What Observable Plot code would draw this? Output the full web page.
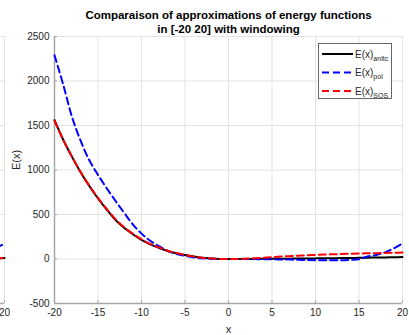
<!DOCTYPE html>
<html>
<head>
<meta charset="utf-8">
<script src="https://cdn.jsdelivr.net/npm/d3@7"></script>
<script src="https://cdn.jsdelivr.net/npm/@observablehq/plot@0.6"></script>
<style>
  html, body { margin: 0; padding: 0; background: #fff; }
  #wrap { position: relative; width: 409px; height: 335px; overflow: hidden; background: #fff; }
  #wrap svg { position: absolute; top: 0; }
</style>
</head>
<body>
<div id="wrap"></div>
<script>
// ---- data ----
const titleLines = ["Comparaison of approximations of energy functions", "in [-20 20] with windowing"];
const xLabel = "x";
const yLabel = "E(x)";
const xTicks = [-20, -15, -10, -5, 0, 5, 10, 15, 20];
const yTicks = [-500, 0, 500, 1000, 1500, 2000, 2500];
const seriesNames = ["anltc", "pol", "SOS"];
const seriesColors = ["#000000", "#0000ff", "#ff0000"];

const xVals = [-20,-19,-18,-17,-16,-15,-14,-13,-12,-11,-10,-9,-8,-7,-6,-5,-4,-3,-2,-1,0,
               1,2,3,4,5,6,7,8,9,10,11,12,13,14,15,16,17,18,19,20];
const eAnltc = [1560,1340,1150,975,820,680,555,440,350,278,215,165,125,90,65,44,27,14,6,1,0,
                0,1,1,2,2,3,4,5,6,7,8,9,10,12,13,15,16,18,20,22];
const ePol   = [2290,1960,1600,1330,1110,945,795,655,520,390,285,205,145,92,58,35,18,8,3,0,-1,
                -1,-1,-1,-2,-3,-5,-7,-9,-11,-13,-14,-15,-14,-10,-2,28,45,75,120,175];
const eSOS   = [1555,1338,1150,978,825,686,562,448,357,285,222,170,130,93,67,45,28,14,6,1,0,
                1,4,9,15,21,27,32,37,42,46,50,53,56,59,62,64,66,68,70,72];

// fragment of the neighbouring subplot visible at the left edge
const fragX = [19, 20];
const fragTicks = [20];
const fragAnltc = [8, 10];
const fragPol = [125, 170];
const fragSOS = [8, 11];

function buildRows(xs, a, p, s) {
  const rows = [];
  [a, p, s].forEach((vals, k) => {
    xs.forEach((x, i) => rows.push({x, y: vals[i], series: seriesNames[k]}));
  });
  return rows;
}

const FONT = "Liberation Sans, Arial, Helvetica, sans-serif";
const fmt = d => String(d);

function lineMarks(rows) {
  return seriesNames.map((name, k) => Plot.line(rows.filter(r => r.series === name), {
    x: "x", y: "y", stroke: seriesColors[k], strokeWidth: 2,
    strokeDasharray: k === 0 ? null : "7,4", curve: "catmull-rom"
  }));
}

function baseOptions(marks, yAxis) {
  return {
    width: 409, height: 335,
    marginLeft: 54, marginRight: 7, marginTop: 36, marginBottom: 32,
    style: {fontFamily: FONT, background: "transparent", overflow: "visible"},
    x: {domain: [-20, 20]},
    y: {domain: [-500, 2500], axis: yAxis},
    marks
  };
}

const wrap = document.getElementById("wrap");

// neighbouring subplot fragment (only its right edge falls inside the window)
const frag = Plot.plot(baseOptions([
  Plot.gridX(fragTicks, {stroke: "#e3e3e3", strokeOpacity: 1}),
  Plot.gridY(yTicks, {stroke: "#e3e3e3", strokeOpacity: 1}),
  Plot.ruleY([-500], {x1: 15, x2: 20, stroke: "#a6a6a6", strokeWidth: 1.5}),
  Plot.axisX(fragTicks, {tickSize: -3, tickPadding: 8, stroke: "#a6a6a6", fill: "#262626", fontSize: 10, label: null, tickFormat: fmt}),
  ...lineMarks(buildRows(fragX, fragAnltc, fragPol, fragSOS))
], null));
frag.style.left = "-398px";
wrap.appendChild(frag);

const chart = Plot.plot(baseOptions([
  Plot.gridX(xTicks, {stroke: "#e3e3e3", strokeOpacity: 1}),
  Plot.gridY(yTicks, {stroke: "#e3e3e3", strokeOpacity: 1}),
  Plot.ruleX([-20], {stroke: "#a6a6a6", strokeWidth: 1.5}),
  Plot.ruleY([-500], {stroke: "#a6a6a6", strokeWidth: 1.5}),
  Plot.axisX(xTicks, {tickSize: -3, tickPadding: 8, stroke: "#a6a6a6", fill: "#262626", fontSize: 10, label: null, tickFormat: fmt}),
  Plot.axisY(yTicks, {tickSize: -3, tickPadding: 8, stroke: "#a6a6a6", fill: "#262626", fontSize: 10, label: null, tickFormat: fmt}),
  ...lineMarks(buildRows(xVals, eAnltc, ePol, eSOS)),
  Plot.text([titleLines[0]], {frameAnchor: "top", dy: -18, fontWeight: "bold", fontSize: 11.5, fill: "#000", textAnchor: "middle", lineAnchor: "bottom"}),
  Plot.text([titleLines[1]], {frameAnchor: "top", dy: -4, fontWeight: "bold", fontSize: 11.5, fill: "#000", textAnchor: "middle", lineAnchor: "bottom"}),
  Plot.text([xLabel], {frameAnchor: "bottom", dy: 29, fontSize: 11, fill: "#262626", lineAnchor: "bottom"}),
  Plot.text([yLabel], {frameAnchor: "left", dx: -38, rotate: -90, fontSize: 11, fill: "#262626"})
], undefined));
chart.style.left = "0px";
wrap.appendChild(chart);

// legend
const svg = d3.select(chart);
const lg = svg.append("g").attr("font-family", FONT).attr("text-anchor", "start");
lg.append("rect").attr("x", 318.5).attr("y", 43.5).attr("width", 73).attr("height", 55)
  .attr("fill", "#fff").attr("stroke", "#404040").attr("stroke-width", 0.8);
seriesNames.forEach((name, k) => {
  const cy = 54 + k * 18.5;
  lg.append("line").attr("x1", 322).attr("x2", 353).attr("y1", cy).attr("y2", cy)
    .attr("stroke", seriesColors[k]).attr("stroke-width", 2)
    .attr("stroke-dasharray", k === 0 ? null : "7,4");
  const t = lg.append("text").attr("x", 355).attr("y", cy + 3.5).attr("font-size", 10)
    .attr("fill", "#262626").attr("text-anchor", "start");
  t.append("tspan").text("E(x)");
  t.append("tspan").attr("font-size", 7).attr("dy", 3).text(name);
});
</script>
</body>
</html>
